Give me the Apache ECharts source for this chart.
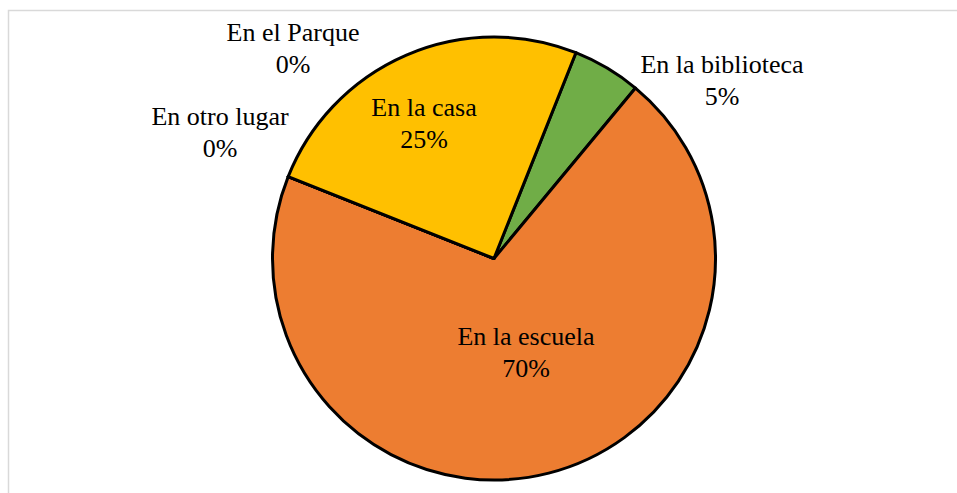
<!DOCTYPE html>
<html>
<head>
<meta charset="utf-8">
<script src="https://cdn.jsdelivr.net/npm/echarts@6/dist/echarts.min.js"></script>
<style>
  html, body { margin: 0; padding: 0; background: #fff; }
  #chart { width: 957px; height: 493px; }
</style>
</head>
<body>
<div id="chart"></div>
<script>
// slices in clockwise order, starting just right of 12 o'clock
const categories = ["En la biblioteca", "En la escuela", "En otro lugar", "En el Parque", "En la casa"];
const values = [5, 70, 0, 0, 25];
const sliceColors = ["#70AD47", "#ED7D31", "#A5A5A5", "#4472C4", "#FFC000"];

// where the data labels sit (Excel lets the user drag them)
const labelSpots = {
  "En la biblioteca": [722, 80],
  "En la escuela": [526, 352],
  "En otro lugar": [220, 132],
  "En el Parque": [293, 48],
  "En la casa": [424, 123],
};

const chart = echarts.init(document.getElementById("chart"), null, { renderer: "svg" });

chart.setOption({
  backgroundColor: "#fff",
  animation: false,
  graphic: [{
    type: "rect",
    shape: { x: 8.5, y: 10.5, width: 1000, height: 600 },
    style: { fill: "none", stroke: "#d9d9d9", lineWidth: 1.5 },
    silent: true,
  }],
  series: [{
    type: "pie",
    center: [494, 258.5],
    radius: [0, 221.5],
    startAngle: 68.3,
    clockwise: true,
    avoidLabelOverlap: false,
    data: categories.map((name, i) => ({
      name: name,
      value: values[i],
      itemStyle: { color: sliceColors[i] },
    })),
    itemStyle: { borderColor: "#000", borderWidth: 3 },
    label: {
      show: true,
      position: "outside",
      formatter: (p) => p.name + "\n" + Math.round(p.percent) + "%",
      fontFamily: "'Liberation Serif', 'Times New Roman', serif",
      fontSize: 26,
      lineHeight: 32,
      color: "#000",
      align: "center",
    },
    labelLine: { show: false },
    labelLayout: (params) => {
      const spot = labelSpots[categories[params.dataIndex]];
      return { x: spot[0], y: spot[1], align: "center", verticalAlign: "middle" };
    },
    emphasis: { disabled: true },
  }],
});
</script>
</body>
</html>
